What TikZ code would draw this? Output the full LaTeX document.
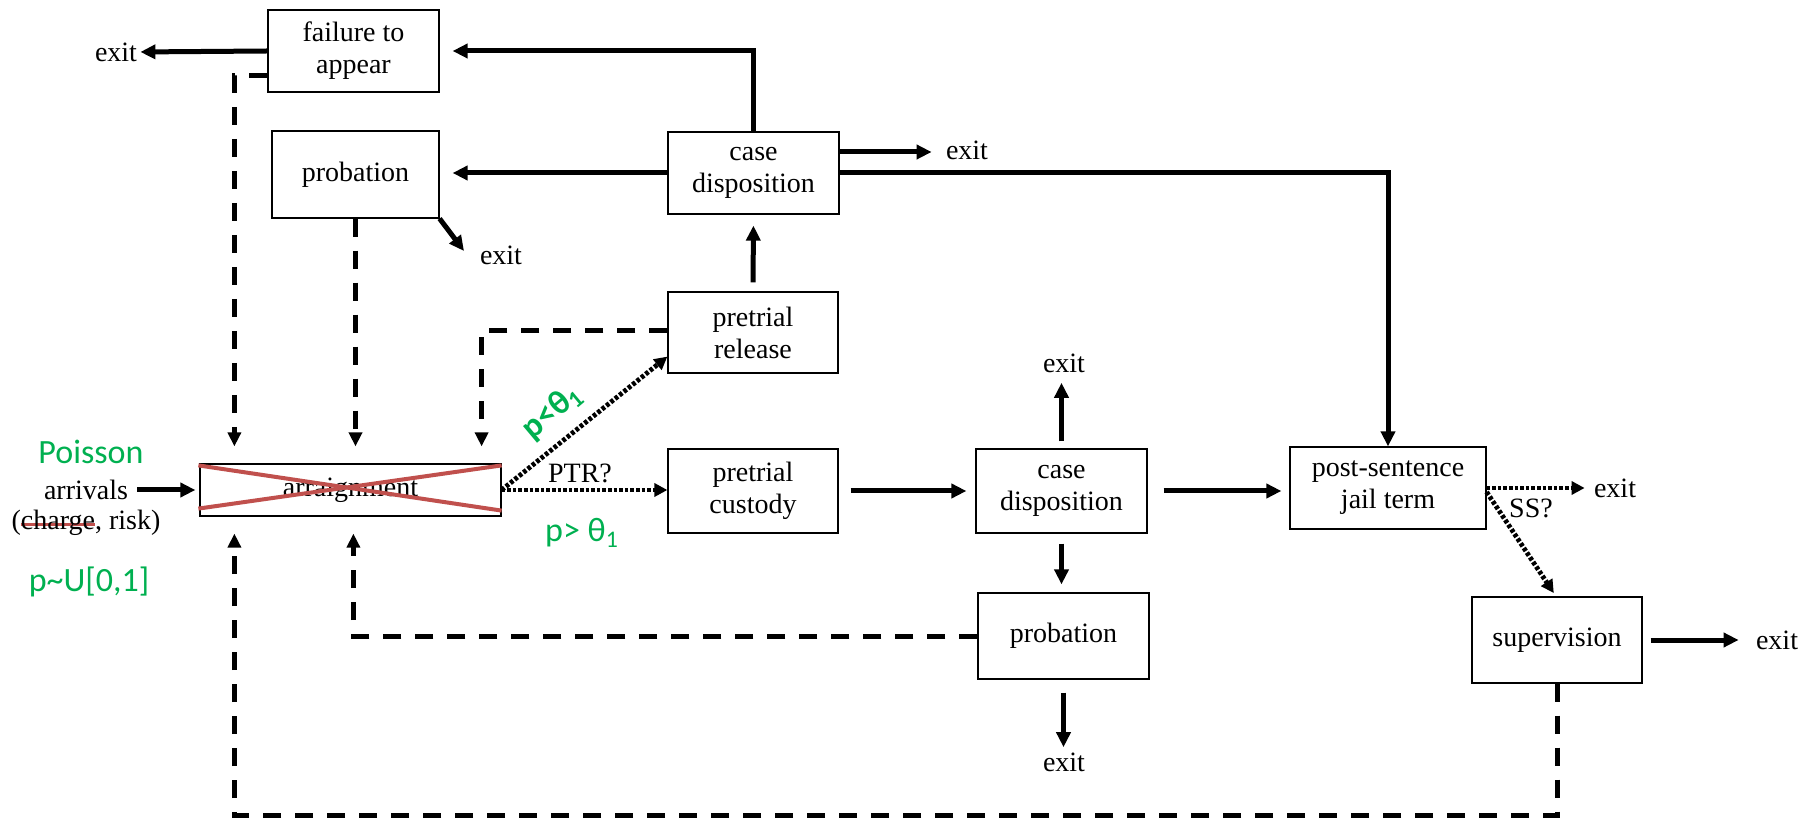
\documentclass[tikz,border=0pt]{standalone}
\usepackage{fontspec}
\setmainfont{Liberation Serif}
\newfontfamily\calib{Carlito}
\usetikzlibrary{arrows.meta,calc}
\definecolor{grn}{RGB}{0,176,80}
\definecolor{xred}{RGB}{192,80,77}
\newcommand\rstrike[1]{\setbox0\hbox{#1}\rlap{\textcolor{xred}{\rule[0.3ex]{\wd0}{1.3pt}}}\box0}
\begin{document}
\begin{tikzpicture}[x=0.5pt,y=-0.5pt,
 box/.style={draw, line width=0.6pt, align=center, inner sep=0pt, font=\fontsize{14}{16}\selectfont},
 lbl/.style={inner sep=0pt, font=\fontsize{14}{16}\selectfont, align=center},
 glbl/.style={inner sep=0pt, text=grn, font=\calib\fontsize{17}{20}\selectfont},
 flow/.style={line width=2.5pt, -{Triangle[length=7.5pt,width=7pt]}},
 back/.style={line width=2.5pt, dash pattern=on 9pt off 7pt, -{Triangle[length=7pt,width=6.5pt]}},
 ptr/.style={line width=2.4pt, dash pattern=on 1.8pt off 1pt, -{Triangle[length=6.5pt,width=6.5pt]}},
]
\useasboundingbox (0,0) rectangle (1818,822);

% boxes
\node[box,minimum width=85.5pt,minimum height=41pt] (fta) at (353.5,51) {failure to\\appear};
\node[box,minimum width=83.5pt,minimum height=43.5pt] (probA) at (355.5,174.5) {probation};
\node[box,minimum width=85.5pt,minimum height=41pt] (cdA) at (753.5,173) {case\\disposition};
\node[box,minimum width=85pt,minimum height=40.5pt] (ptrel) at (753,332.5) {pretrial\\release};
\node[box,minimum width=85pt,minimum height=42pt] (ptcus) at (753,491) {pretrial\\custody};
\node[box,minimum width=150.5pt,minimum height=26pt] (arr) at (350.5,490) {arraignment};
\node[box,minimum width=85.5pt,minimum height=42pt] (cdB) at (1061.5,491) {case\\disposition};
\node[box,minimum width=85.5pt,minimum height=43pt] (probB) at (1063.5,636) {probation};
\node[box,minimum width=98pt,minimum height=41pt] (pst) at (1388,488) {post-sentence\\jail term};
\node[box,minimum width=85pt,minimum height=43pt] (sup) at (1557,640) {supervision};

% red cross over arraignment
\draw[xred, line width=2pt] ($(arr.north west)+(-1,2)$) -- ($(arr.south east)+(0,-6)$);
\draw[xred, line width=2pt] ($(arr.south west)+(-1,-8)$) -- ($(arr.north east)+(0,2)$);

% exits
\node[lbl] (x1) at (116,52) {exit};
\node[lbl] (x2) at (501,255) {exit};
\node[lbl] (x3) at (967,150) {exit};
\node[lbl] (x4) at (1064,363) {exit};
\node[lbl] (x5) at (1064,762) {exit};
\node[lbl] (x6) at (1615,488) {exit};
\node[lbl] (x7) at (1777,640) {exit};

% left texts
\node[glbl] (poi) at (91,452) {Poisson};
\node[lbl] (arv) at (86,490) {arrivals};
\node[lbl] (chr) at (86,523) {(\rstrike{charge}, risk)};
\node[glbl] (pu) at (89,582) {p\textasciitilde U[0,1]};

% labels
\node[glbl, font=\calib\bfseries\fontsize{17}{20}\selectfont, rotate=40] (lt) at (552,412) {p<θ\textsubscript{1}};
\node[lbl] (ptrq) at (580,473) {PTR?};
\node[glbl] (gt) at (582,533) {p> θ\textsubscript{1}};
\node[lbl] (ssq) at (1531,508) {SS?};

% solid flows
\draw[flow, shorten <=4.5pt, shorten >=2pt] (arv.east) -- (arr.west);
\draw[flow, shorten <=6pt, shorten >=4.5pt] (ptcus.east) -- (cdB.west);
\draw[flow, shorten <=8pt, shorten >=4pt] (cdB.east) -- (cdB.east -| pst.west);
\draw[flow, shorten <=3.5pt, shorten >=5pt] (cdB.north) -- (cdB.north |- x4.south);
\draw[flow, shorten <=5pt, shorten >=4pt] (cdB.south) -- (cdB.south |- probB.north);
\draw[flow, shorten <=6.5pt, shorten >=2.5pt] (probB.south) -- (probB.south |- x5.north);
\draw[flow, shorten <=4pt, shorten >=8.5pt] (sup.east) -- (sup.east -| x7.west);
\draw[flow] (cdA.east) -- (pst.north |- cdA.east) -- (pst.north);
\draw[flow, shorten >=7pt] ($(cdA.east)+(0,-21)$) coordinate (c3) -- (c3 -| x3.west);
\draw[flow, shorten >=6.5pt] (cdA.west) -- (cdA.west -| probA.east);
\draw[flow, shorten >=6.5pt] (cdA.north) -- (cdA.north |- fta.east) -- (fta.east);
\draw[flow, shorten >=1.5pt] (fta.west) -- (x1.east);
\coordinate (x2e) at (464,251);
\draw[flow] (probA.south east) -- (x2e);
\draw[flow, shorten <=4.5pt, shorten >=5.5pt] (ptrel.north) -- (cdA.south);

% dotted decisions
\draw[ptr] (arr.east) -- (arr.east -| ptcus.west);
\draw[ptr] (arr.east) -- ($(ptrel.south west)+(0,-17)$);
\draw[ptr, shorten >=4.5pt] (pst.east) -- (x6.west);
\draw[ptr, shorten >=2pt] ($(pst.east)+(0,4)$) -- ($(sup.north)+(-1,0)$);

% dashed returns
\draw[back, shorten >=8.5pt] ($(fta.west)+(0,25)$) -| ($(arr.north west)+(35,0)$);
\draw[back, shorten >=8.5pt] (probA.south) -- (probA.south |- arr.north);
\draw[back, shorten >=8.5pt] ($(ptrel.west)+(0,-1.5)$) -| ($(arr.north east)+(-20,0)$);
\draw[back, shorten >=8.5pt] (probB.west) -| ($(arr.south west)+(154,0)$);
\draw[back, shorten >=8.5pt] (sup.south) -- ++(0,132) -| ($(arr.south west)+(35,0)$);
\end{tikzpicture}
\end{document}
